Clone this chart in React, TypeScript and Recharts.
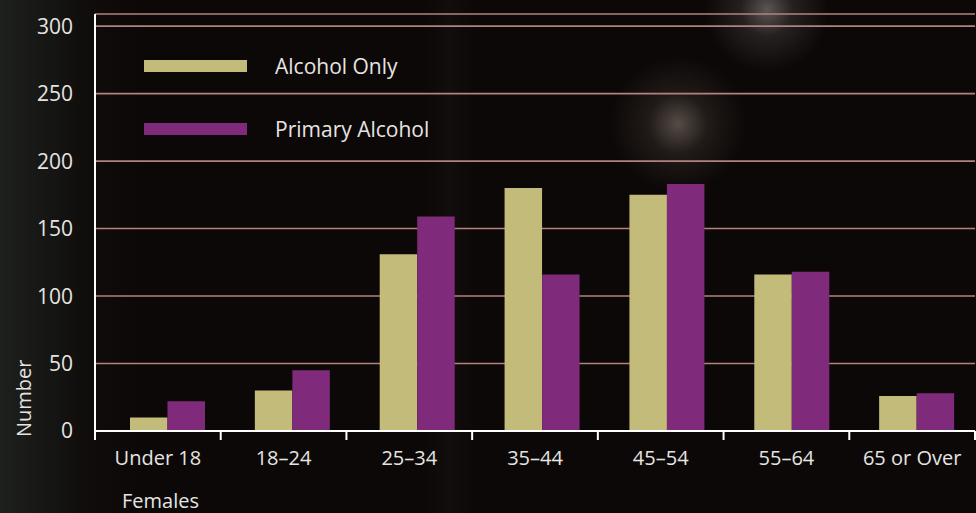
import { BarChart, Bar, XAxis, YAxis, CartesianGrid } from 'recharts'

// ── Data ────────────────────────────────────────────────────────
const AGE_GROUPS = ['Under 18', '18–24', '25–34', '35–44', '45–54', '55–64', '65 or Over']
const ALCOHOL_ONLY = [10, 30, 131, 180, 175, 116, 26]
const PRIMARY_ALCOHOL = [22, 45, 159, 116, 183, 118, 28]
const Y_TICKS = [0, 50, 100, 150, 200, 250, 300]

const SERIES = [
  { key: 'alcoholOnly', name: 'Alcohol Only', color: '#c3bb79' },
  { key: 'primaryAlcohol', name: 'Primary Alcohol', color: '#7f2a7a' },
]

const data = AGE_GROUPS.map((group, i) => ({
  group,
  alcoholOnly: ALCOHOL_ONLY[i],
  primaryAlcohol: PRIMARY_ALCOHOL[i],
}))

const W = 976
const H = 513
const Y_AXIS_W = 95
const MARGIN = { top: 14, right: 1, left: 0, bottom: 0 }
const PLOT_W = W - Y_AXIS_W - MARGIN.left - MARGIN.right
const BAND = PLOT_W / AGE_GROUPS.length

const FONT = '"Open Sans", "Noto Sans", sans-serif'
const TEXT = '#e6e4e2'
const GRID = '#b3827f'

// category label + boundary tick marks (ticks sit between bands, not at centres)
const AgeTick = (props: any) => {
  const { x, y, payload, index } = props
  return (
    <g>
      <line x1={x - BAND / 2} x2={x - BAND / 2} y1={y} y2={y + 9} stroke="#fff" strokeWidth={2} />
      {index === AGE_GROUPS.length - 1 && (
        <line x1={x + BAND / 2} x2={x + BAND / 2} y1={y} y2={y + 9} stroke="#fff" strokeWidth={2} />
      )}
      <text x={x} y={y + 34} textAnchor="middle" fill={TEXT} fontSize={20} fontFamily={FONT}>
        {payload.value}
      </text>
    </g>
  )
}

export default function App() {
  return (
    <div
      style={{
        position: 'fixed', left: 0, top: 0, width: W, height: H, overflow: 'hidden',
        fontFamily: FONT,
        background: [
          'radial-gradient(circle at 767px 10px, rgba(200,195,192,0.42) 0, rgba(140,132,132,0.2) 26px, rgba(0,0,0,0) 62px)',
          'radial-gradient(circle at 678px 124px, rgba(215,195,180,0.36) 0, rgba(130,118,108,0.17) 30px, rgba(0,0,0,0) 68px)',
          'linear-gradient(to right, rgba(0,0,0,0) 425px, rgba(32,24,26,0.35) 450px, rgba(0,0,0,0) 475px)',
          'linear-gradient(to right, #1e201e 0, #161715 45px, rgba(20,18,17,0.4) 90px, rgba(0,0,0,0) 140px)',
          '#0c0807',
        ].join(', '),
      }}
    >
      <BarChart width={W} height={H} data={data} margin={MARGIN} barGap={0} barSize={37.5}>
        <CartesianGrid horizontal vertical={false} stroke={GRID} strokeWidth={1.6} />
        <XAxis
          dataKey="group"
          xAxisId="labels"
          height={82}
          tickSize={0}
          tickMargin={0}
          axisLine={{ stroke: '#fff', strokeWidth: 2 }}
          tickLine={false}
          interval={0}
          tick={<AgeTick />}
          label={{
            content: () => (
              <text x={122} y={508} fill={TEXT} fontSize={20} fontFamily={FONT}>Females</text>
            ),
          }}
        />
        <XAxis dataKey="group" xAxisId="bars" hide height={0} padding={{ left: 10, right: -4 }} />
        <YAxis
          width={Y_AXIS_W}
          domain={[0, 309]}
          ticks={Y_TICKS}
          interval={0}
          tickSize={0}
          tickMargin={22}
          axisLine={{ stroke: '#fff', strokeWidth: 2 }}
          tickLine={false}
          tick={{ fill: TEXT, fontSize: 21, fontFamily: FONT }}
          label={{
            content: () => (
              <text x={31} y={437} transform="rotate(-90 31 437)" fill={TEXT} fontSize={20} fontFamily={FONT}>Number</text>
            ),
          }}
        />
        {SERIES.map(s => (
          <Bar key={s.key} dataKey={s.key} name={s.name} xAxisId="bars" fill={s.color} isAnimationActive={false} />
        ))}
      </BarChart>

      {/* legend */}
      {SERIES.map((s, i) => (
        <div key={s.key} style={{ position: 'absolute', left: 144, top: 60 + i * 63, display: 'flex', alignItems: 'center' }}>
          <div style={{ width: 103, height: 12, background: s.color }} />
          <span style={{ marginLeft: 28, color: TEXT, fontSize: 21, lineHeight: '12px' }}>{s.name}</span>
        </div>
      ))}
    </div>
  )
}
